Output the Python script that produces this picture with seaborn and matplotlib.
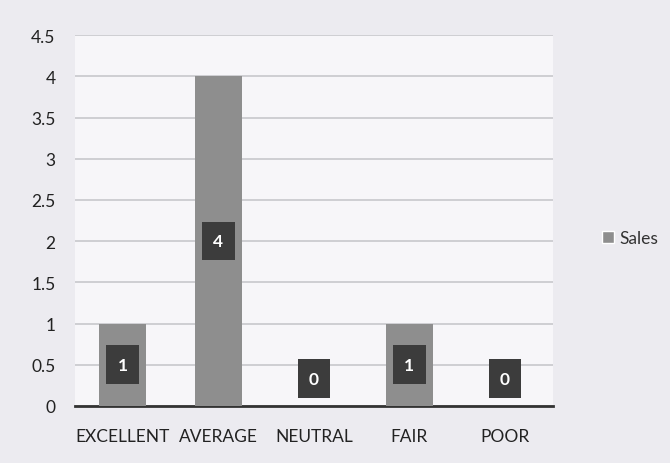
import pandas as pd
import numpy as np
import matplotlib
matplotlib.use('Agg')
import matplotlib.pyplot as plt
import seaborn as sns
from matplotlib.patches import Patch

categories = ['EXCELLENT', 'AVERAGE', 'NEUTRAL', 'FAIR', 'POOR']
sales = [1, 4, 0, 1, 0]
y_ticks = [0, 0.5, 1, 1.5, 2, 2.5, 3, 3.5, 4, 4.5]
y_tick_labels = ['0', '0.5', '1', '1.5', '2', '2.5', '3', '3.5', '4', '4.5']

df = pd.DataFrame({'category': categories, 'sales': sales})

sns.set_style('white')
plt.rcParams['font.family'] = ['Lato', 'DejaVu Sans']

bg = '#ecebf0'
fig = plt.figure(figsize=(6.7, 4.64), dpi=100, facecolor=bg)
ax = fig.add_axes([0.112, 0.123, 0.713, 0.799])
ax.set_facecolor('#f7f6f9')

sns.barplot(data=df, x='category', y='sales', color='#8e8e8e', width=0.49,
            saturation=1, linewidth=0, ax=ax, zorder=3)

ax.set_ylim(0, 4.5)
ax.set_xlim(-0.5, len(categories) - 0.5)
ax.set_yticks(y_ticks)
ax.set_yticklabels(y_tick_labels)
ax.yaxis.grid(True, color='#c8c8cc', linewidth=1.2, zorder=0)
ax.set_axisbelow(True)

# category boundary ticks on the x axis, labels centred
ax.set_xticks(np.arange(len(categories)))
ax.set_xticklabels(categories)
ax.set_xticks(np.arange(len(categories) + 1) - 0.5, minor=True)
ax.tick_params(axis='x', which='major', length=0, pad=16, labelsize=12.5, labelcolor='#222222')
ax.tick_params(axis='x', which='minor', length=5, width=1.5, color='#333333', direction='out')
ax.tick_params(axis='y', length=0, pad=14, labelsize=12.5, labelcolor='#222222')

for side in ['top', 'right', 'left']:
    ax.spines[side].set_visible(False)
ax.spines['bottom'].set_color('#333333')
ax.spines['bottom'].set_linewidth(2)

ax.set_xlabel('')
ax.set_ylabel('')

# data labels in dark boxes
for i, v in enumerate(sales):
    y = v / 2 if v > 0 else 0.33
    ax.text(i, y, str(v), ha='center', va='center', color='white', fontsize=12.5,
            fontweight='bold', zorder=5,
            bbox=dict(boxstyle='square,pad=0.65', facecolor='#3c3c3c', edgecolor='none'))

fig.legend(handles=[Patch(facecolor='#8e8e8e', label='Sales')], loc='center left',
           bbox_to_anchor=(0.875, 0.485), frameon=False, handlelength=0.7,
           handleheight=0.7, handletextpad=0.3, fontsize=12.5, labelcolor='#333333')

plt.savefig('out.png', dpi=100, facecolor=bg)
plt.close()
